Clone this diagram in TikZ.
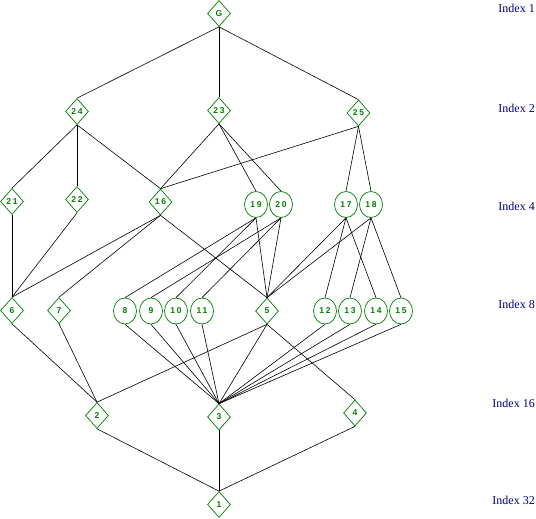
\documentclass[tikz,border=0pt]{standalone}
\usepackage{fontspec}
\setmainfont{Liberation Serif}
\newfontfamily\nodefont[LetterSpace=20]{Liberation Sans}
\usetikzlibrary{shapes.geometric}
\definecolor{ngreen}{RGB}{0,128,0}
\definecolor{lnavy}{RGB}{0,0,128}
\begin{document}
\begin{tikzpicture}[x=1pt,y=-1pt,
  dnode/.style={diamond, draw=ngreen, line width=0.7pt, inner sep=0pt,
    minimum width=23pt, minimum height=26pt, text=ngreen,
    font=\nodefont\bfseries\fontsize{8.5}{8.5}\selectfont},
  cnode/.style={ellipse, draw=ngreen, line width=0.7pt, inner sep=0pt,
    minimum width=23pt, minimum height=26pt, text=ngreen,
    font=\nodefont\bfseries\fontsize{8.5}{8.5}\selectfont},
  edge/.style={line width=0.6pt, draw=black},
  idx/.style={anchor=east, text=lnavy, inner sep=0pt,
    font=\fontsize{12}{12}\selectfont}]
\useasboundingbox (0,0) rectangle (536,519);
% level 1
\node[dnode] (nG) at (219,13.5) {G};
% level 2
\node[dnode] (n24) at (77,111.5) {24};
\node[dnode] (n23) at (219,110.5) {23};
\node[dnode] (n25) at (358.5,113) {25};
% level 4
\node[dnode] (n21) at (12,201.5) {21};
\node[dnode] (n22) at (77,199.5) {22};
\node[dnode] (n16) at (160.5,202) {16};
\node[cnode] (n19) at (256,204.5) {19};
\node[cnode] (n20) at (281,204.5) {20};
\node[cnode] (n17) at (346,204.5) {17};
\node[cnode] (n18) at (371,204.5) {18};
% level 8
\node[dnode] (n6) at (12,310.5) {6};
\node[dnode] (n7) at (59,310.5) {7};
\node[cnode] (n8) at (125,311) {8};
\node[cnode] (n9) at (151,311) {9};
\node[cnode] (n10) at (176,311) {10};
\node[cnode] (n11) at (202,311) {11};
\node[dnode] (n5) at (267,311) {5};
\node[cnode] (n12) at (325,311) {12};
\node[cnode] (n13) at (350,311) {13};
\node[cnode] (n14) at (376,311) {14};
\node[cnode] (n15) at (401,311) {15};
% level 16
\node[dnode] (n2) at (97,415.5) {2};
\node[dnode] (n3) at (219,417) {3};
\node[dnode] (n4) at (355,413) {4};
% level 32
\node[dnode] (n1) at (219,504.5) {1};
% edges
\foreach \a/\b in {G/24,G/23,G/25,
  24/21,24/22,24/16,23/16,23/19,23/20,25/16,25/17,25/18,
  21/6,22/6,16/6,16/7,16/5,19/8,19/10,19/5,20/9,20/11,20/5,
  17/5,18/5,17/12,17/14,18/13,18/15,
  6/2,7/2,5/2,5/3,5/4,8/3,9/3,10/3,11/3,12/3,13/3,14/3,15/3,
  2/1,3/1,4/1}
  \draw[edge] (n\a.south) -- (n\b.north);
% index labels
\node[idx] (i1) at (535,8) {Index 1};
\node[idx] (i2) at (535,108) {Index 2};
\node[idx] (i4) at (535,206) {Index 4};
\node[idx] (i8) at (535,304) {Index 8};
\node[idx] (i16) at (535,403) {Index 16};
\node[idx] (i32) at (535,500) {Index 32};
\end{tikzpicture}
\end{document}
